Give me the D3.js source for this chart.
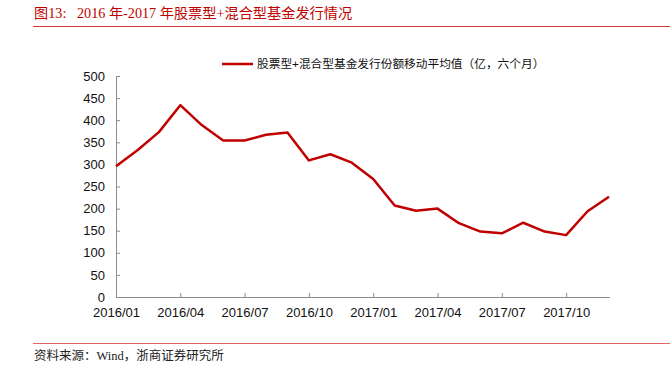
<!DOCTYPE html>
<html>
<head>
<meta charset="utf-8">
<script src="https://cdn.jsdelivr.net/npm/d3@7"></script>
<style>
  body { margin: 0; background: #fff; }
  svg { display: block; }
</style>
</head>
<body>
<svg id="chart"></svg>
<script>
var months = ["2016/01","2016/02","2016/03","2016/04","2016/05","2016/06","2016/07","2016/08",
              "2016/09","2016/10","2016/11","2016/12","2017/01","2017/02","2017/03","2017/04",
              "2017/05","2017/06","2017/07","2017/08","2017/09","2017/10","2017/11","2017/12"];
var values = [296, 332, 373, 434, 389, 354, 354, 367, 372, 309, 323, 304,
              267, 207, 195, 200, 167, 148, 144, 168, 148, 140, 194, 227];
var tickMonths = ["2016/01","2016/04","2016/07","2016/10","2017/01","2017/04","2017/07","2017/10"];
var yTicks = [0, 50, 100, 150, 200, 250, 300, 350, 400, 450, 500];
var seriesName = "股票型+混合型基金发行份额移动平均值（亿，六个月）";
var titleText = "图13:\u00a0\u00a0\u00a02016 年-2017 年股票型+混合型基金发行情况";
var sourceText = "资料来源：Wind，浙商证券研究所";

var W = 670, H = 367;
var svg = d3.select("svg#chart").attr("width", W).attr("height", H);

var red = "#c00000";
var serif = "'Liberation Serif', 'Noto Sans CJK SC', serif";
var sans = "Arial, 'Liberation Sans', 'Noto Sans CJK SC', sans-serif";

// header
svg.append("text")
  .attr("x", 34).attr("y", 18)
  .attr("fill", red)
  .style("font-family", serif)
  .style("font-size", "14.2px")
  .text(titleText);
svg.append("line")
  .attr("x1", 33).attr("x2", W).attr("y1", 26.5).attr("y2", 26.5)
  .attr("stroke", "#d43b3b").attr("stroke-width", 1);

// footer
svg.append("line")
  .attr("x1", 33).attr("x2", W).attr("y1", 343.5).attr("y2", 343.5)
  .attr("stroke", "#e06666").attr("stroke-width", 1);
svg.append("text")
  .attr("x", 34).attr("y", 360)
  .attr("fill", "#222")
  .style("font-family", serif)
  .style("font-size", "12.5px")
  .text(sourceText);

var x = d3.scalePoint().domain(months).range([116, 609]);
var y = d3.scaleLinear().domain([0, 500]).range([297, 76]);

var axisColor = "#8c8c8c";

var gx = svg.append("g").attr("transform", "translate(0," + y(0) + ")")
  .call(d3.axisBottom(x).tickValues(tickMonths).tickSize(-4).tickPadding(11).tickSizeOuter(0));
gx.select(".domain").attr("stroke", axisColor).attr("d", "M116.5,0.5H610");

var gy = svg.append("g").attr("transform", "translate(116,0)")
  .call(d3.axisLeft(y).tickValues(yTicks).tickSize(-4).tickPadding(11).tickSizeOuter(0));
gy.select(".domain").attr("stroke", axisColor);

svg.selectAll(".tick line").attr("stroke", axisColor);
svg.selectAll(".tick text")
  .attr("fill", "#111")
  .style("font-family", sans)
  .style("font-size", "13px");

var line = d3.line()
  .x(function(d, i) { return x(months[i]); })
  .y(function(d) { return y(d); });

svg.append("path")
  .datum(values)
  .attr("d", line)
  .attr("fill", "none")
  .attr("stroke", red)
  .attr("stroke-width", 2.5)
  .attr("stroke-linejoin", "round");

// legend
var legend = svg.append("g").attr("transform", "translate(222,64)");
legend.append("line")
  .attr("x1", 0).attr("x2", 31).attr("y1", 0).attr("y2", 0)
  .attr("stroke", red).attr("stroke-width", 2.5);
legend.append("text")
  .attr("x", 35).attr("y", 4)
  .attr("fill", "#111")
  .style("font-family", sans)
  .style("font-size", "11.7px")
  .text(seriesName);
</script>
</body>
</html>
